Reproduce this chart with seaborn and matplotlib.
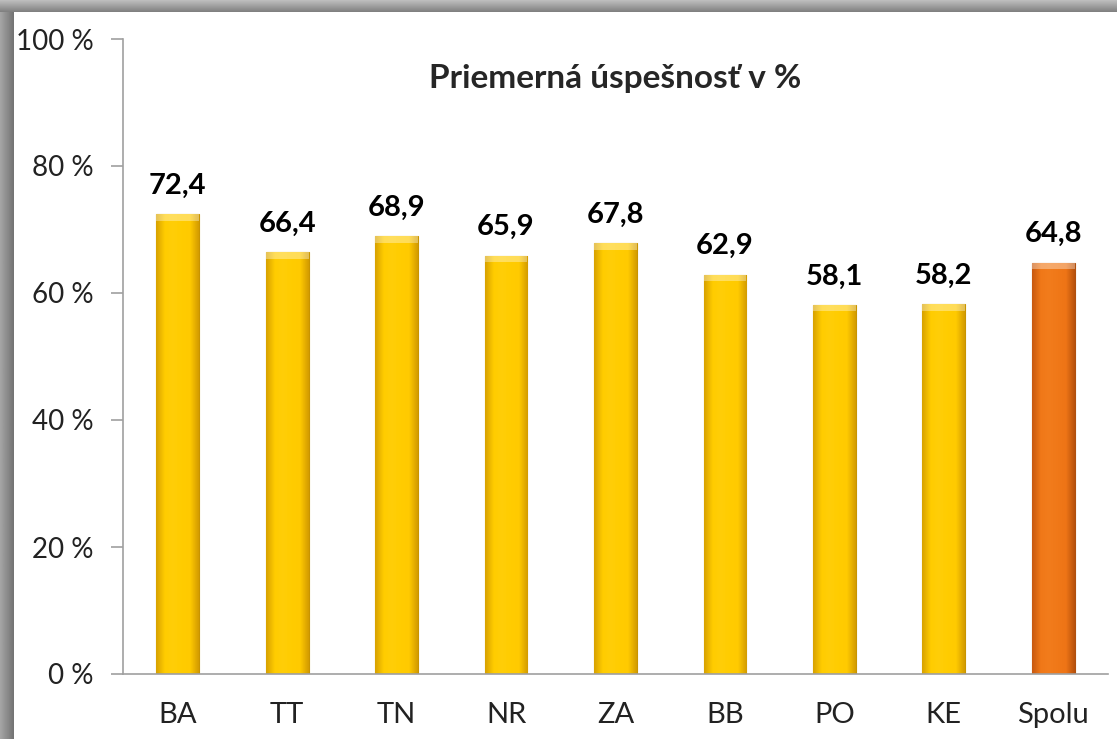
import numpy as np
import pandas as pd
import seaborn as sns
from matplotlib import pyplot as plt
from matplotlib.colors import LinearSegmentedColormap

# data
kraje = ['BA', 'TT', 'TN', 'NR', 'ZA', 'BB', 'PO', 'KE', 'Spolu']
uspesnost = [72.4, 66.4, 68.9, 65.9, 67.8, 62.9, 58.1, 58.2, 64.8]
farby = ['#FFCC00'] * 8 + ['#F07818']
y_ticky = [0, 20, 40, 60, 80, 100]
nadpis = 'Priemerná úspešnosť v %'

sns.set_style('white')
plt.rcParams['font.family'] = ['Lato', 'DejaVu Sans']

datos = pd.DataFrame({'kraj': kraje, 'hodnota': uspesnost})

fig = plt.figure(figsize=(11.17, 7.39), dpi=100)
fig.patch.set_facecolor('white')

# sivy ramik vlavo a hore
ramik_l = fig.add_axes([0, 0, 14 / 1117, 1])
ramik_l.imshow(np.linspace(0.65, 0.45, 50)[None, :], cmap='gray', vmin=0, vmax=1,
               aspect='auto', extent=[0, 1, 0, 1])
ramik_l.axis('off')
ramik_h = fig.add_axes([0, 1 - 12 / 739, 1, 12 / 739])
ramik_h.imshow(np.linspace(0.75, 0.5, 50)[:, None], cmap='gray', vmin=0, vmax=1,
               aspect='auto', extent=[0, 1, 0, 1])
ramik_h.axis('off')

ax = fig.add_axes([123 / 1117, 1 - 674 / 739, (1108 - 123) / 1117, (674 - 39) / 739])
sns.barplot(data=datos, x='kraj', y='hodnota', hue='kraj', palette=farby,
            legend=False, width=0.39, ax=ax, saturation=1)

# gradient na stlpcoch
for patch, c in zip(ax.patches, farby):
    x0, y0 = patch.get_x(), patch.get_y()
    w, h = patch.get_width(), patch.get_height()
    if c == '#FFCC00':
        cmap = LinearSegmentedColormap.from_list(
            'g', ['#D8A200', '#FFCC00', '#FFCE08', '#FFCC00', '#FFCA00', '#D49C00'])
        edge = '#C89400'
    else:
        cmap = LinearSegmentedColormap.from_list(
            'o', ['#C85A10', '#F07818', '#F27C1C', '#F07818', '#EE7416', '#B8520C'])
        edge = '#B0500E'
    patch.set_edgecolor(edge)
    patch.set_linewidth(0.8)
    im = ax.imshow(np.linspace(0, 1, 64)[None, :], cmap=cmap, aspect='auto',
                   extent=[x0, x0 + w, y0, y0 + h], zorder=patch.get_zorder() + 0.1)
    im.set_clip_path(patch)
    # svetly vrch stlpca
    ax.fill_between([x0, x0 + w], y0 + h - 1.0, y0 + h, color='white', alpha=0.35,
                    zorder=patch.get_zorder() + 0.2, linewidth=0)

for i, v in enumerate(uspesnost):
    ax.annotate(f'{v:.1f}'.replace('.', ','), (i, v), xytext=(0, 11),
                textcoords='offset points', ha='center', va='bottom',
                fontsize=21, fontweight='bold', color='black')

ax.set_xlim(-0.5, len(kraje) - 0.5)
ax.set_ylim(0, 100)
ax.set_yticks(y_ticky)
ax.set_yticklabels([f'{t} %' for t in y_ticky], fontsize=20, color='#222222')
ax.set_xticks(range(len(kraje)))
ax.set_xticklabels(kraje, fontsize=21, color='#222222')
ax.set_xticks(np.arange(-0.5, len(kraje)), minor=True)
ax.tick_params(axis='x', which='major', length=0, pad=20)
ax.tick_params(axis='x', which='minor', length=7, width=1.2, color='#A0A0A0', direction='out')
ax.tick_params(axis='y', length=9, width=1.2, color='#A0A0A0', direction='out', pad=12, left=True)
ax.set_xlabel('')
ax.set_ylabel('')
for s in ['top', 'right']:
    ax.spines[s].set_visible(False)
for s in ['left', 'bottom']:
    ax.spines[s].set_color('#A0A0A0')
    ax.spines[s].set_linewidth(1.2)

ax.set_title(nadpis, fontsize=24, fontweight='bold', y=0.91)

fig.savefig('out.png', dpi=100, facecolor=fig.get_facecolor())
